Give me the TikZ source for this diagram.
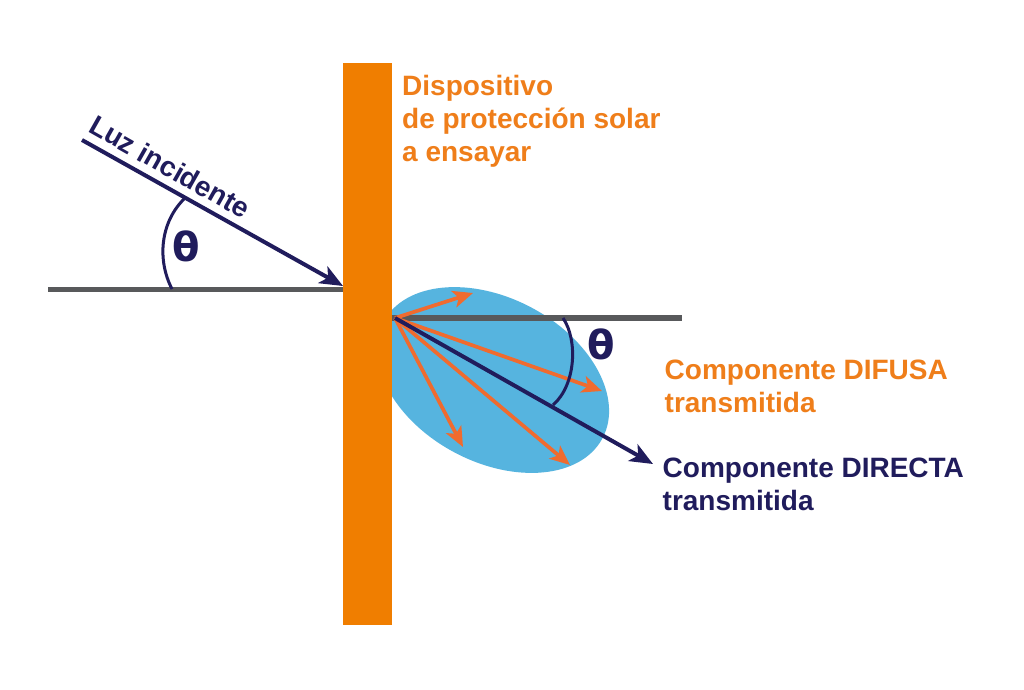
\documentclass[tikz,border=0pt]{standalone}
\usepackage{fontspec}
\setmainfont{Liberation Sans}
\newfontfamily\thetafont{DejaVu Sans}
\usetikzlibrary{arrows.meta,calc}
\definecolor{barorange}{HTML}{F07E00}
\definecolor{textorange}{HTML}{EF7E1A}
\definecolor{arroworange}{HTML}{EF6B2F}
\definecolor{navy}{HTML}{201C5C}
\definecolor{ellblue}{HTML}{56B4DF}
\definecolor{lgray}{HTML}{58595B}
\begin{document}
\begin{tikzpicture}[x=1pt,y=-1pt,
  navyarrow/.style={draw=navy,line width=4pt,-{Stealth[length=23pt,width=19pt,inset=6pt]}},
  orarrow/.style={draw=arroworange,line width=3.7pt,-{Stealth[length=20pt,width=17pt,inset=5pt]}},
  grayline/.style={draw=lgray,line width=5.5pt},
  anglearc/.style={draw=navy,line width=3pt},
  lbl/.style={font=\fontsize{28}{33}\selectfont\bfseries, inner sep=0pt, align=left},
  thetalbl/.style={font=\thetafont\fontsize{40}{40}\selectfont\bfseries, text=navy, inner sep=0pt},
  ]
\useasboundingbox[fill=white] (0,0) rectangle (1024,689);
% ellipse of diffuse transmission
\fill[ellblue, rotate around={-28:(493,380)}] (493,380) ellipse [x radius=124, y radius=82];
% reference lines
\coordinate (L0) at (48,289.5);
\coordinate (L1) at (343,289.5);
\coordinate (R0) at (392,318);
\coordinate (R1) at (682,318);
\draw[grayline] (L0) -- (L1);
\draw[grayline] (R0) -- (R1);
% device
\fill[barorange] (343.3,63) rectangle (391.7,625);
% incident ray
\coordinate (A) at (82,140);
\coordinate (T) at (343,286);
\draw[navyarrow] (A) -- (T);
\node[lbl, text=navy, rotate=-29.5, anchor=south, inner sep=9pt] (luz) at ($(A)!0.30!(T)$) {Luz incidente};
% left angle
\draw[anglearc] (172,289) .. controls (157,260) and (160,222) .. (185,198);
\node[thetalbl] (th1) at (186,246) {θ};
% transmitted rays
\coordinate (O) at (395,318);
\coordinate (d1) at (473,293);
\coordinate (d2) at (602,391);
\coordinate (d3) at (463,447);
\coordinate (d4) at (570,465);
\coordinate (D) at (653,464);
\draw[orarrow] (O) -- (d1);
\draw[orarrow] (O) -- (d2);
\draw[orarrow] (O) -- (d3);
\draw[orarrow] (O) -- (d4);
\draw[navyarrow] (O) -- (D);
% right angle
\draw[anglearc] (563,318) .. controls (578,340) and (576,385) .. (553,405);
\node[thetalbl] (th2) at (601,344) {θ};
% labels (base anchor = baseline of the last line)
\node[lbl, text=textorange, anchor=base west] (disp) at (402,161) {Dispositivo\\de protección solar\\a ensayar};
\node[lbl, text=textorange, anchor=base west] (difusa) at (664.5,412) {Componente DIFUSA\\transmitida};
\node[lbl, text=navy, anchor=base west] (directa) at (662.5,510) {Componente DIRECTA\\transmitida};
\end{tikzpicture}
\end{document}
